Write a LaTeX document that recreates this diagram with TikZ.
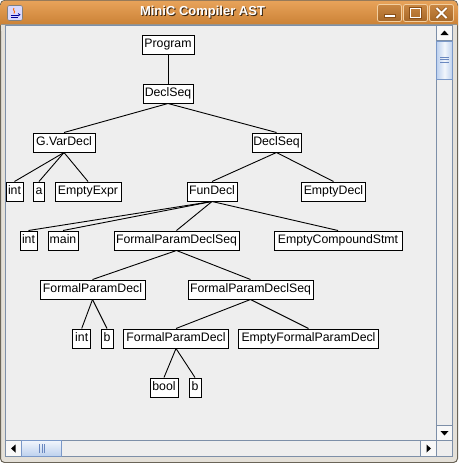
\documentclass[tikz,border=0pt]{standalone}
\usepackage{fontspec}
\setmainfont{Liberation Sans}
\definecolor{bgcol}{HTML}{EEEEEE}
\definecolor{framecol}{HTML}{E4E0D8}
\definecolor{framedark}{HTML}{6A6458}
\definecolor{panelborder}{HTML}{7D8FA8}
\definecolor{titletop}{HTML}{E8A35A}
\definecolor{titlebot}{HTML}{C47A2E}
\definecolor{btnedge}{HTML}{F2CFA0}
\definecolor{btndark}{HTML}{8A5018}
\definecolor{thumbedge}{HTML}{7A98C8}
\definecolor{thumbl}{HTML}{F2F6FC}
\definecolor{thumbr}{HTML}{BCD0EE}
\definecolor{gripcol}{HTML}{6A88C0}
\definecolor{btnface}{HTML}{F8F8F8}
\begin{document}
\begin{tikzpicture}[x=1pt,y=-1pt,
  ast/.style={draw=black, fill=white, line width=1pt, inner sep=0pt,
    minimum height=19pt, font=\fontsize{12.3}{14}\selectfont,
    text height=9pt, text depth=2.5pt},
  edge/.style={draw=black, line width=0.9pt},
  sbbtn/.style={draw=panelborder, line width=0.8pt, fill=btnface},
  thumb/.style={draw=thumbedge, line width=0.8pt, left color=thumbr, right color=thumbr, middle color=thumbl},
  hthumb/.style={draw=thumbedge, line width=0.8pt, top color=thumbl, bottom color=thumbr},
  tbtn/.style={draw=btnedge, line width=0.8pt, rounded corners=2pt, top color=titlebot!90!white, bottom color=titlebot!85!black},
  ticon/.style={draw=btndark, fill=white, line width=0.6pt}
]
\useasboundingbox (0,0) rectangle (458,463);
% window frame
\draw[fill=framecol, draw=framedark, line width=1pt, rounded corners=4pt] (0.5,0.5) rectangle (457.5,462.5);
\shade[top color=titletop, bottom color=titlebot, rounded corners=5pt] (0.5,0.5) rectangle (457.5,30);
\fill[framecol] (1,24) rectangle (457,31);
\draw[framedark!70, line width=0.8pt] (1,24) -- (457,24);
% content panel
\draw[fill=bgcol, draw=panelborder, line width=1pt] (5.5,25.5) rectangle (452.5,456.5);
% title
\node[font=\bfseries\fontsize{13}{15}\selectfont, text=black!70!brown] at (203.5,13.5) {MiniC Compiler AST};
\node[font=\bfseries\fontsize{13}{15}\selectfont, text=white] (title) at (202.5,12.5) {MiniC Compiler AST};
% java icon
\draw[rounded corners=2pt, fill=white!85!blue, draw=gray, line width=0.6pt] (7.5,5.5) rectangle (22.5,20.5);
\draw[blue!60!black, line width=1pt] (10.5,15.5) -- (18,15.5);
\draw[blue!60!black, line width=0.8pt] (11,17.8) -- (17.5,17.8);
\draw[orange!80!red, line width=0.9pt] (14,8) .. controls (12,10) and (16,11) .. (14,13.5);
\draw[blue!60!black, line width=0.7pt] (18,13.5) .. controls (20.5,13.5) and (20.5,16) .. (18,16);
% title buttons
\draw[tbtn] (377.5,4.5) rectangle (401.5,21.5);
\draw[tbtn] (403.5,4.5) rectangle (427.5,21.5);
\draw[tbtn] (429.5,4.5) rectangle (453.5,21.5);
\draw[ticon] (384,14.5) rectangle (395,17.5);
\draw[btndark, line width=0.6pt] (409.5,7.5) rectangle (421.5,18.5);
\draw[white, line width=1.8pt] (410.5,8.5) rectangle (420.5,17.5);
\draw[btndark, line width=3.2pt] (436.5,8) -- (446.5,18) (446.5,8) -- (436.5,18);
\draw[white, line width=1.8pt] (436.5,8) -- (446.5,18) (446.5,8) -- (436.5,18);
% vertical scrollbar
\draw[fill=bgcol, draw=panelborder, line width=0.8pt] (436.5,25.5) rectangle (452.5,440.5);
\draw[sbbtn] (436.5,25.5) rectangle (452.5,40.5);
\fill[black] (440.5,35) -- (448.5,35) -- (444.5,30.5) -- cycle;
\draw[thumb] (436.5,41) rectangle (452.5,79);
\foreach \yy in {57,59.5,62} \draw[gripcol, line width=0.8pt] (440,\yy) -- (449,\yy);
\draw[sbbtn] (436.5,425.5) rectangle (452.5,440.5);
\fill[black] (440.5,431) -- (448.5,431) -- (444.5,435.5) -- cycle;
% horizontal scrollbar
\draw[fill=bgcol, draw=panelborder, line width=0.8pt] (5.5,440.5) rectangle (436.5,456.5);
\draw[sbbtn] (5.5,440.5) rectangle (21.5,456.5);
\fill[black] (15.5,444.5) -- (15.5,452.5) -- (11,448.5) -- cycle;
\draw[hthumb] (21.5,440.5) rectangle (61.5,456.5);
\foreach \xx in {39.5,42,44.5} \draw[gripcol, line width=0.8pt] (\xx,444) -- (\xx,453);
\draw[sbbtn] (420.5,440.5) rectangle (436.5,456.5);
\fill[black] (426.5,444.5) -- (426.5,452.5) -- (431,448.5) -- cycle;
\fill[bgcol] (437,441) rectangle (452,456);
% tree nodes
\node[ast, minimum width=52pt] (program) at (168,44.5) {Program};
\node[ast, minimum width=50pt] (ds1) at (168,93.5) {DeclSeq};
\node[ast, minimum width=62pt] (gvar) at (64,142.5) {G.VarDecl};
\node[ast, minimum width=49pt] (ds2) at (276.5,142.5) {DeclSeq};
\node[ast, minimum width=17pt] (int1) at (14.5,191.5) {int};
\node[ast, minimum width=11pt] (a) at (39,191.5) {a};
\node[ast, minimum width=66pt] (eexpr) at (88,191.5) {EmptyExpr};
\node[ast, minimum width=50pt] (fun) at (212,191.5) {FunDecl};
\node[ast, minimum width=64pt] (edecl) at (333.5,191.5) {EmptyDecl};
\node[ast, minimum width=17pt] (int2) at (28.5,240.5) {int};
\node[ast, minimum width=30pt] (main) at (63,240.5) {main};
\node[ast, minimum width=125pt] (fpds1) at (176.5,240.5) {FormalParamDeclSeq};
\node[ast, minimum width=128pt] (ecs) at (338,240.5) {EmptyCompoundStmt};
\node[ast, minimum width=105pt] (fpd1) at (92.5,289.5) {FormalParamDecl};
\node[ast, minimum width=125pt] (fpds2) at (250.5,289.5) {FormalParamDeclSeq};
\node[ast, minimum width=18pt] (int3) at (81.7,338.5) {int};
\node[ast, minimum width=12pt] (b1) at (107,338.5) {b};
\node[ast, minimum width=105pt] (fpd2) at (176,338.5) {FormalParamDecl};
\node[ast, minimum width=140pt] (efpd) at (308.5,338.5) {EmptyFormalParamDecl};
\node[ast, minimum width=28pt] (bool) at (164,387.5) {bool};
\node[ast, minimum width=12pt] (b2) at (195,387.5) {b};
% edges
\foreach \p/\c in {program/ds1, ds1/gvar, ds1/ds2, gvar/int1, gvar/a, gvar/eexpr,
  ds2/fun, ds2/edecl, fun/int2, fun/main, fun/fpds1, fun/ecs, fpds1/fpd1, fpds1/fpds2,
  fpd1/int3, fpd1/b1, fpds2/fpd2, fpds2/efpd, fpd2/bool, fpd2/b2}
  \draw[edge] (\p.south) -- (\c.north);
\end{tikzpicture}
\end{document}
